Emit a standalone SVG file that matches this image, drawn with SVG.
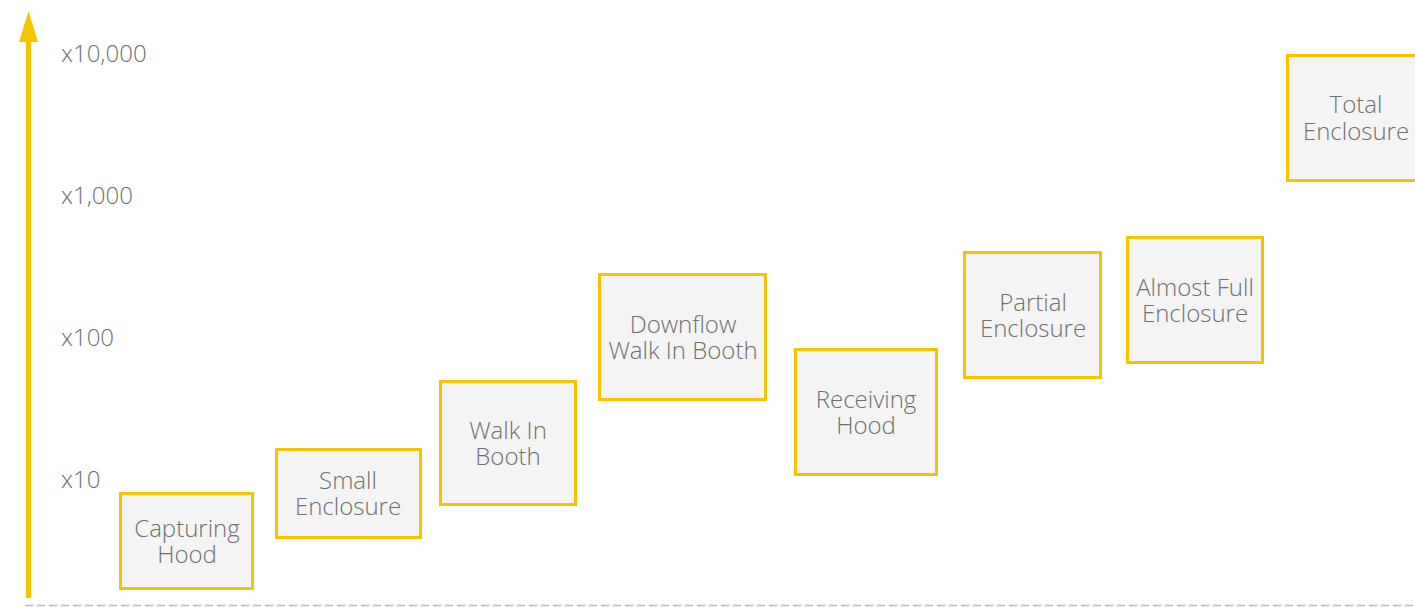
<svg xmlns="http://www.w3.org/2000/svg" width="1415" height="607" viewBox="0 0 1415 607">
<style>
.box rect{fill:#f4f4f4;stroke:#f5c400;stroke-width:3}
.box text,.tick{font-family:"Open Sans","Liberation Sans",sans-serif;font-weight:300;font-size:24px;fill:#707070}
.box text{text-anchor:middle}
</style>
<rect width="1415" height="607" fill="#fff"/>
<g id="axis">
<line x1="25" y1="605.5" x2="1415" y2="605.5" stroke="#bbb" stroke-width="1.5" stroke-dasharray="8 4"/>
<line x1="28.5" y1="40" x2="28.5" y2="598" stroke="#f5c400" stroke-width="5"/>
<polygon points="28.5,11 19,42 38,42" fill="#f5c400"/>
<text class="tick" x="61" y="61.5">x10,000</text>
<text class="tick" x="61" y="203.5">x1,000</text>
<text class="tick" x="61" y="345.5">x100</text>
<text class="tick" x="61" y="487.5">x10</text>
</g>
<g id="connectors"></g>
<g id="capturing-hood" class="box"><rect x="120.5" y="493.5" width="132" height="95"/><text x="187" y="537"><tspan x="187">Capturing</tspan><tspan x="187" dy="25.5">Hood</tspan></text></g>
<g id="small-enclosure" class="box"><rect x="276.5" y="449.5" width="144" height="88"/><text x="348" y="489"><tspan x="348">Small</tspan><tspan x="348" dy="26">Enclosure</tspan></text></g>
<g id="walk-in-booth" class="box"><rect x="440.5" y="381.5" width="135" height="123"/><text x="508" y="439"><tspan x="508">Walk In</tspan><tspan x="508" dy="26">Booth</tspan></text></g>
<g id="downflow-walk-in-booth" class="box"><rect x="599.5" y="274.5" width="166" height="125"/><text x="683" y="333"><tspan x="683">Downflow</tspan><tspan x="683" dy="26">Walk In Booth</tspan></text></g>
<g id="receiving-hood" class="box"><rect x="795.5" y="349.5" width="141" height="125"/><text x="866" y="408"><tspan x="866">Receiving</tspan><tspan x="866" dy="26">Hood</tspan></text></g>
<g id="partial-enclosure" class="box"><rect x="964.5" y="252.5" width="136" height="125"/><text x="1033" y="311"><tspan x="1033">Partial</tspan><tspan x="1033" dy="26">Enclosure</tspan></text></g>
<g id="almost-full-enclosure" class="box"><rect x="1127.5" y="237.5" width="135" height="125"/><text x="1195" y="296"><tspan x="1195">Almost Full</tspan><tspan x="1195" dy="26">Enclosure</tspan></text></g>
<g id="total-enclosure" class="box"><rect x="1287.5" y="55.5" width="135" height="125"/><text x="1356" y="113"><tspan x="1356">Total</tspan><tspan x="1356" dy="26.5">Enclosure</tspan></text></g>
</svg>
